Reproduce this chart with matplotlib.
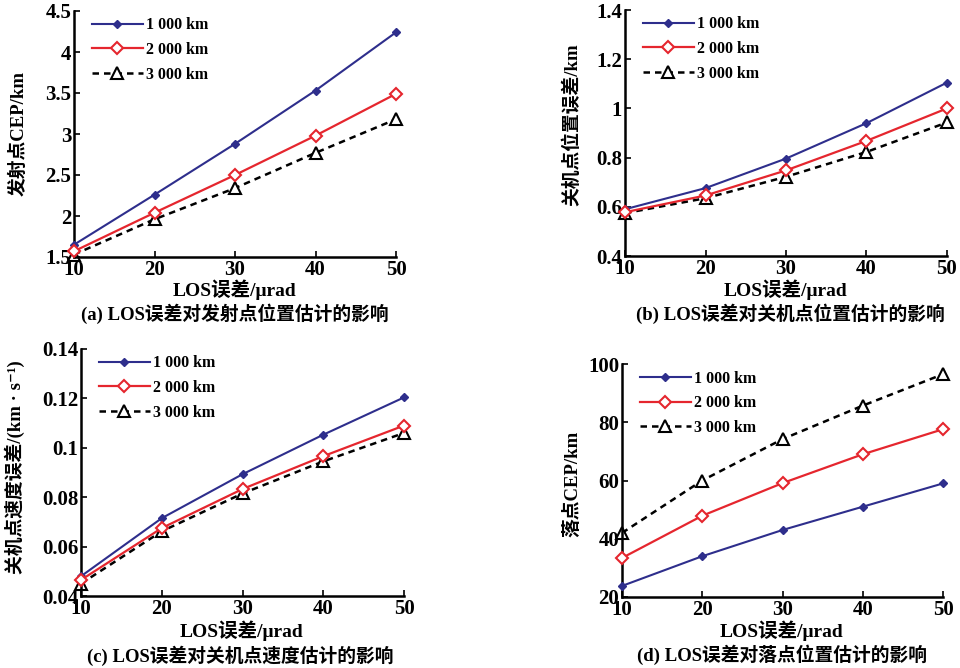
import matplotlib
matplotlib.use("Agg")
import matplotlib.pyplot as plt

x_vals = [10, 20, 30, 40, 50]
series_names = ["1 000 km", "2 000 km", "3 000 km"]

# (a) launch point CEP
a_1000 = [1.65, 2.26, 2.88, 3.53, 4.24]
a_2000 = [1.57, 2.04, 2.50, 2.98, 3.49]
a_3000 = [1.53, 1.96, 2.34, 2.77, 3.18]
# (b) burnout position error
b_1000 = [0.59, 0.676, 0.796, 0.94, 1.105]
b_2000 = [0.578, 0.646, 0.748, 0.868, 1.0]
b_3000 = [0.574, 0.635, 0.722, 0.823, 0.943]
# (c) burnout velocity error
c_1000 = [0.048, 0.0715, 0.0893, 0.1053, 0.1204]
c_2000 = [0.0465, 0.0675, 0.0833, 0.0966, 0.109]
c_3000 = [0.045, 0.0662, 0.0815, 0.0945, 0.106]
# (d) impact CEP
d_1000 = [23.8, 34.0, 43.0, 51.0, 59.0]
d_2000 = [33.4, 47.9, 59.1, 69.0, 77.6]
d_3000 = [42.0, 60.0, 74.2, 85.7, 96.5]

FONT = ['Liberation Serif', 'Noto Sans CJK SC', 'DejaVu Sans']
plt.rcParams['font.family'] = FONT
plt.rcParams['font.weight'] = 'bold'

fig = plt.figure(figsize=(9.6, 6.68), dpi=100)
W, H = 960.0, 668.0

def make_ax(l, r, t, b):
    return fig.add_axes([l / W, 1 - b / H, (r - l) / W, (b - t) / H])

panels = [
    dict(box=(74, 396, 11, 257), data=(a_1000, a_2000, a_3000), ylim=(1.5, 4.5),
         yticks=[1.5, 2, 2.5, 3, 3.5, 4, 4.5], ylabels=['1.5', '2', '2.5', '3', '3.5', '4', '4.5'],
         ylab='发射点CEP/km', ylab_pos=(18, 133), xlab_pos=(235, 290),
         cap='(a) LOS误差对发射点位置估计的影响', cap_pos=(235, 314)),
    dict(box=(625, 947, 10, 256), data=(b_1000, b_2000, b_3000), ylim=(0.4, 1.4),
         yticks=[0.4, 0.6, 0.8, 1.0, 1.2, 1.4], ylabels=['0.4', '0.6', '0.8', '1', '1.2', '1.4'],
         ylab='关机点位置误差/km', ylab_pos=(572, 125), xlab_pos=(786, 290),
         cap='(b) LOS误差对关机点位置估计的影响', cap_pos=(790, 314)),
    dict(box=(81, 404, 349, 596), data=(c_1000, c_2000, c_3000), ylim=(0.04, 0.14),
         yticks=[0.04, 0.06, 0.08, 0.1, 0.12, 0.14],
         ylabels=['0.04', '0.06', '0.08', '0.1', '0.12', '0.14'],
         ylab='关机点速度误差/(km · s⁻¹)', ylab_pos=(15, 467), xlab_pos=(242, 631),
         cap='(c) LOS误差对关机点速度估计的影响', cap_pos=(240, 656)),
    dict(box=(622, 943, 364, 597), data=(d_1000, d_2000, d_3000), ylim=(20, 100),
         yticks=[20, 40, 60, 80, 100], ylabels=['20', '40', '60', '80', '100'],
         ylab='落点CEP/km', ylab_pos=(572, 484), xlab_pos=(782, 631),
         cap='(d) LOS误差对落点位置估计的影响', cap_pos=(782, 655)),
]

blue = '#2E2E8C'
red = '#E5262E'

for p in panels:
    ax = make_ax(*p['box'])
    s1, s2, s3 = p['data']
    ax.plot(x_vals, s1, color=blue, lw=1.5, marker='D', ms=4, mfc=blue, mec=blue,
            label=series_names[0], clip_on=False, zorder=3)
    ax.plot(x_vals, s2, color=red, lw=1.6, marker='D', ms=6.5, mfc='white', mec=red, mew=1.5,
            label=series_names[1], clip_on=False, zorder=3)
    ax.plot(x_vals, s3, color='black', lw=1.8, ls=(0, (2.6, 2.0)), marker='^', ms=8, mfc='white',
            mec='black', mew=1.5, label=series_names[2], clip_on=False, zorder=2)
    ax.set_xlim(10, 50)
    ax.set_ylim(*p['ylim'])
    ax.set_xticks(x_vals)
    ax.set_xticklabels([str(v) for v in x_vals])
    ax.set_yticks(p['yticks'])
    ax.set_yticklabels(p['ylabels'])
    for s in ['top', 'right']:
        ax.spines[s].set_visible(False)
    for s in ['left', 'bottom']:
        ax.spines[s].set_linewidth(1.8)
    ax.tick_params(direction='in', length=4, width=1.2, labelsize=15, pad=2)
    ax.set_facecolor('none')
    ax.legend(loc='upper left', bbox_to_anchor=(0.02, 1.02), frameon=False,
              fontsize=11.5, handlelength=3.2, handletextpad=0.2, labelspacing=0.55,
              borderaxespad=0.3)
    fig.text(p['ylab_pos'][0] / W, 1 - p['ylab_pos'][1] / H, p['ylab'], rotation=90,
             ha='center', va='center', fontsize=13.5, fontweight='bold')
    fig.text(p['xlab_pos'][0] / W, 1 - p['xlab_pos'][1] / H, 'LOS误差/μrad',
             ha='center', va='center', fontsize=14, fontweight='bold')
    fig.text(p['cap_pos'][0] / W, 1 - p['cap_pos'][1] / H, p['cap'],
             ha='center', va='center', fontsize=13.5, fontweight='bold')

fig.savefig('out.png', dpi=100)
